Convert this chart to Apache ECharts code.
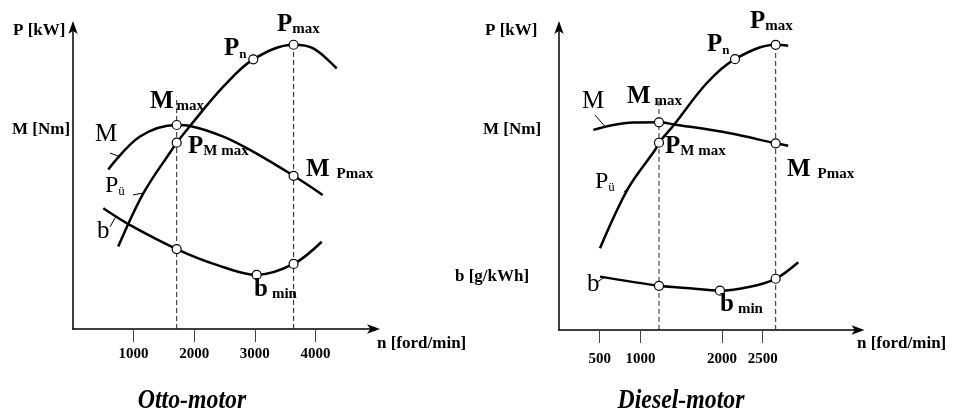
<!DOCTYPE html>
<html>
<head>
<meta charset="utf-8">
<script src="https://cdn.jsdelivr.net/npm/echarts@6/dist/echarts.min.js"></script>
<style>
html,body{margin:0;padding:0;background:#fff;}
#c{width:954px;height:412px;}
</style>
</head>
<body>
<div id="c"></div>
<script>
// ---------- data ----------
const ottoTicks = [1000, 2000, 3000, 4000];
const dieselTicks = [500, 1000, 2000, 2500];

const ottoP = [[747,27.1],[1160,44.6],[1629,58.9],[1711,61.3],[1931,66.8],[2480,79.7],[2975,88.7],[3640,93.5],[3966,92.3],[4351,85.7]];
const ottoM = [[582,52.5],[1106,63.3],[1711,67.1],[1931,66.8],[2480,63.3],[2921,58.9],[3640,50.4],[4120,44.1]];
const ottoB = [[500,39.7],[913,34.5],[1711,26.3],[2371,21.1],[3031,17.8],[3640,21.4],[4104,28.7]];
const ottoMarks = [[1711,61.3],[2975,88.7],[3640,93.5],[1711,67.1],[3640,50.4],[1711,26.3],[3031,17.8],[3640,21.4]];
const ottoDash = [[1711,76.4],[3640,93.5]];
const ottoLeaders = [[[611,57.9],[776,56.6]],[[990,44.1],[1155,44.7]],[[611,33.6],[693,36.5]]];

const dieselP = [[503,26.8],[850,46.5],[1178,59.0],[1227,61.4],[1415,67.4],[1812,80.9],[2160,88.8],[2659,93.5],[2813,93.2]];
const dieselM = [[421,65.6],[666,67.2],[912,68.0],[1227,68.1],[1415,67.4],[2098,64.5],[2659,61.2],[2813,60.4]];
const dieselB = [[503,17.5],[1227,14.5],[1607,13.7],[1975,12.9],[2344,14.2],[2659,16.8],[2936,22.2]];
const dieselMarks = [[1227,61.4],[2160,88.8],[2659,93.5],[1227,68.1],[2659,61.2],[1227,14.5],[1975,12.9],[2659,16.8]];
const dieselDash = [[1227,75.4],[2659,93.5]];
const dieselLeaders = [[[442,70.5],[564,66.7]],[[798,45.2],[871,47.2]],[[466,15.7],[564,17.4]]];

// ---------- chart ----------
const FONT = '"Liberation Serif","Times New Roman",serif';
const chart = echarts.init(document.getElementById('c'), null, {renderer:'canvas'});

function xAxisDef(gi, max, ticks, margin) {
  return {
    gridIndex: gi, type: 'value', min: 0, max: max,
    splitLine: {show:false},
    axisLine: {show:true, onZero:false, symbol:['none','arrow'], symbolSize:[7,13], symbolOffset:[0,4],
      lineStyle:{color:'#000', width:1.5}},
    axisTick: {show:true, inside:false, length:13, customValues: ticks, lineStyle:{color:'#444', width:1}},
    axisLabel: {show:true, customValues: ticks, margin: margin, color:'#000', fontFamily: FONT, fontWeight:'bold', fontSize:15,
      formatter: v => String(v)}
  };
}
function yAxisDef(gi) {
  return {
    gridIndex: gi, type: 'value', min: 0, max: 100,
    splitLine:{show:false}, axisTick:{show:false}, axisLabel:{show:false},
    axisLine:{show:true, onZero:false, symbol:['none','arrow'], symbolSize:[7,13], symbolOffset:[0,4],
      lineStyle:{color:'#000', width:1.5}}
  };
}
function curve(gi, data) {
  return {type:'line', xAxisIndex:gi, yAxisIndex:gi, data:data, smooth:0.35, symbol:'none',
    lineStyle:{color:'#000', width:2.5}, z:3, silent:true};
}
function dashes(gi, list) {
  return list.map(d => ({type:'line', xAxisIndex:gi, yAxisIndex:gi, data:[[d[0],0],[d[0],d[1]]], symbol:'none',
    lineStyle:{color:'#222', width:1, type:[5,3]}, z:2, silent:true}));
}
function leaders(gi, list) {
  return list.map(seg => ({type:'line', xAxisIndex:gi, yAxisIndex:gi, data:seg, symbol:'none',
    lineStyle:{color:'#000', width:1}, z:2, silent:true}));
}
function marks(gi, data) {
  return {type:'scatter', xAxisIndex:gi, yAxisIndex:gi, data:data, symbol:'circle', symbolSize:9,
    itemStyle:{color:'#fff', borderColor:'#000', borderWidth:1.2, opacity:1}, z:5, silent:true};
}

// annotation label: big letter + subscript, positioned by left x and big-letter baseline
function sub(left, base, big, small, o) {
  o = o || {};
  const B = o.B || 25, S = o.S || 15, d = (o.d == null ? 2 : o.d);
  const bw = o.bold === false ? 'normal' : 'bold';
  const sw = o.sbold === false ? 'normal' : bw;
  const Ls = 2 * (0.1625 * B + 0.3375 * S - d);
  return {
    type:'text', x:left, y: base - 0.8375 * B, silent:true, z:10,
    style:{
      text: '{b|' + big + '}' + (small ? '{s|' + small + '}' : ''),
      textAlign:'left', align:'left', textVerticalAlign:'top', verticalAlign:'top',
      fill:'#000',
      rich:{
        b:{fontFamily:FONT, fontWeight:bw, fontSize:B, lineHeight:B, verticalAlign:'bottom', color:'#000'},
        s:{fontFamily:FONT, fontWeight:sw, fontSize:S, lineHeight:Ls, verticalAlign:'bottom', color:'#000', padding:[0,0,0,o.gap||0]}
      }
    }
  };
}
function plain(left, cy, text, size) {
  return {type:'text', x:left, y:cy, silent:true, z:10,
    style:{text:text, fill:'#000', font:'bold ' + (size||17) + 'px ' + FONT,
      textAlign:'left', align:'left', textVerticalAlign:'middle', verticalAlign:'middle'}};
}
function caption(cx, cy, text) {
  return {type:'text', x:cx, y:cy, scaleX:0.85, silent:true, z:10,
    style:{text:text, fill:'#000', font:'italic bold 28px ' + FONT,
      textAlign:'center', align:'center', textVerticalAlign:'middle', verticalAlign:'middle'}};
}

const graphics = [
  // Otto axis names
  plain(13, 31, 'P [kW]'), plain(12, 130, 'M [Nm]'), plain(377, 344, 'n [ford/min]'),
  // Diesel axis names
  plain(485, 31, 'P [kW]'), plain(483, 130, 'M [Nm]'), plain(455, 277, 'b [g/kWh]'), plain(857, 344, 'n [ford/min]'),
  // Otto annotations
  sub(150, 110, 'M', 'max', {gap:3}),
  sub(188, 155, 'P', 'M max', {d:3}),
  sub(306, 178, 'M', 'Pmax', {gap:7}),
  sub(224, 57, 'P', 'n', {S:13, d:2}),
  sub(277, 33, 'P', 'max', {d:2}),
  sub(254, 298, 'b', 'min', {gap:4}),
  sub(95, 143, 'M', '', {bold:false, B:25}),
  sub(105, 194, 'P', 'ü', {bold:false, B:24, S:13, d:3}),
  sub(97, 240, 'b', '', {bold:false, B:25}),
  // Diesel annotations
  sub(582, 110, 'M', '', {bold:false, B:25}),
  sub(627, 105, 'M', 'max', {gap:4}),
  sub(665, 155, 'P', 'M max', {d:3}),
  sub(787, 178, 'M', 'Pmax', {gap:7}),
  sub(595, 190, 'P', 'ü', {bold:false, B:24, S:13, d:3}),
  sub(587, 293, 'b', '', {bold:false, B:25}),
  sub(707, 53, 'P', 'n', {S:13, d:3}),
  sub(750, 30, 'P', 'max', {d:2}),
  sub(720, 313, 'b', 'min', {gap:4}),
  // captions
  caption(192, 401, 'Otto-motor'),
  caption(681, 401, 'Diesel-motor')
];

const option = {
  animation:false,
  backgroundColor:'#fff',
  grid:[
    {left:73, top:25, width:303, height:304},
    {left:559, top:25, width:301.5, height:305}
  ],
  xAxis:[ xAxisDef(0, 5000, ottoTicks, 18), xAxisDef(1, 3700, dieselTicks, 22) ],
  yAxis:[ yAxisDef(0), yAxisDef(1) ],
  series:[
    ...dashes(0, ottoDash), ...leaders(0, ottoLeaders),
    curve(0, ottoP), curve(0, ottoM), curve(0, ottoB), marks(0, ottoMarks),
    ...dashes(1, dieselDash), ...leaders(1, dieselLeaders),
    curve(1, dieselP), curve(1, dieselM), curve(1, dieselB), marks(1, dieselMarks)
  ],
  graphic: graphics
};
chart.setOption(option);
</script>
</body>
</html>
